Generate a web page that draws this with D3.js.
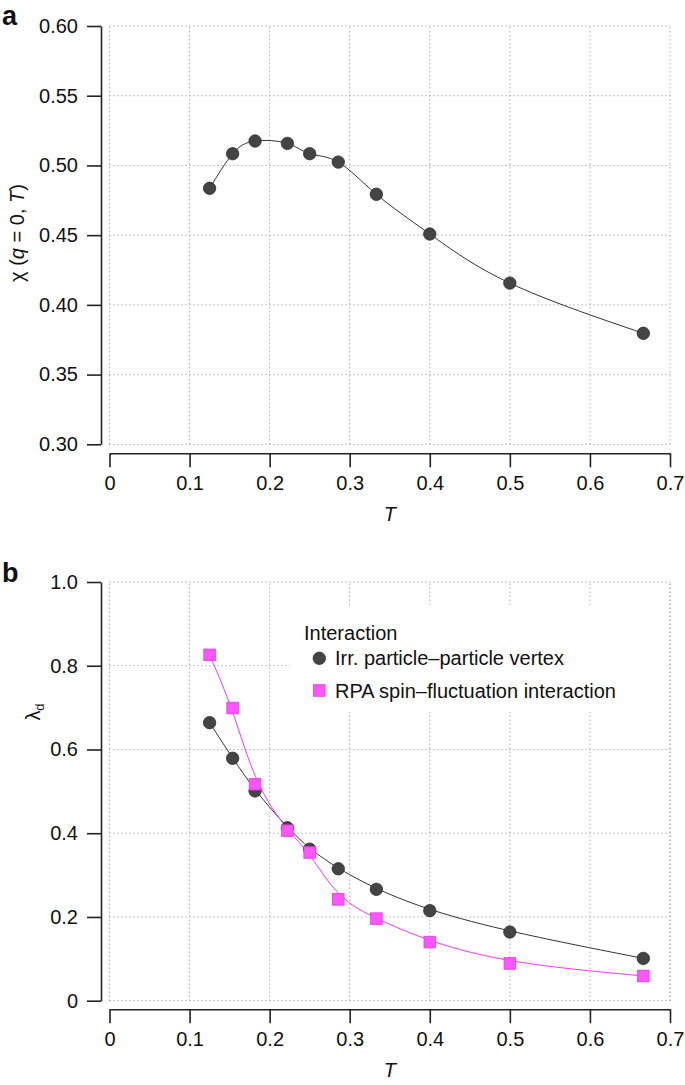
<!DOCTYPE html>
<html><head><meta charset="utf-8">
<script src="https://cdn.jsdelivr.net/npm/d3@7"></script>
<style>
body{margin:0;background:#fff;}
svg text{font-family:"Liberation Sans",Arial,Helvetica,sans-serif;fill:#111;}
</style></head><body>
<svg id="c" width="685" height="1085"></svg>
<script>
// ---- data ----
const temps = [0.125, 0.1538, 0.1818, 0.2222, 0.25, 0.2857, 0.3333, 0.4, 0.5, 0.6667];
const chiValues = [0.4836, 0.5084, 0.5175, 0.5158, 0.5084, 0.5024, 0.4793, 0.4508, 0.4156, 0.3796];
const lambdaIrr = [0.664, 0.579, 0.501, 0.413, 0.362, 0.315, 0.266, 0.215, 0.164, 0.101];
const lambdaRPA = [0.826, 0.699, 0.517, 0.406, 0.354, 0.242, 0.196, 0.140, 0.089, 0.059];
const xTicks = [0, 0.1, 0.2, 0.3, 0.4, 0.5, 0.6, 0.7];
const xTickLabels = ["0", "0.1", "0.2", "0.3", "0.4", "0.5", "0.6", "0.7"];
const yTicksA = [0.30, 0.35, 0.40, 0.45, 0.50, 0.55, 0.60];
const yTickLabelsA = ["0.30", "0.35", "0.40", "0.45", "0.50", "0.55", "0.60"];
const yTicksB = [0, 0.2, 0.4, 0.6, 0.8, 1.0];
const yTickLabelsB = ["0", "0.2", "0.4", "0.6", "0.8", "1.0"];
const legendTitle = "Interaction";
const seriesNames = ["Irr. particle\u2013particle vertex", "RPA spin\u2013fluctuation interaction"];

const svg = d3.select("#c");
const FS = 20;
const darkFill = "#444444", darkStroke = "#2a2a2a";
const pinkFill = "#ff55ff", pinkStroke = "#e33be3", pinkLine = "#ff33ff";

function panel(opts){
  const g = svg.append("g");
  const x = d3.scaleLinear().domain([0, 0.7]).range([109.5, 670]);
  const y = d3.scaleLinear().domain(opts.yDomain).range(opts.yRange);
  // grid
  const grid = g.append("g").attr("stroke", "#8a8a8a").attr("stroke-width", 1)
    .attr("stroke-dasharray", "1,3").attr("fill", "none");
  grid.selectAll("line.v").data(xTicks).join("line")
    .attr("x1", d => x(d)).attr("x2", d => x(d))
    .attr("y1", y(opts.yDomain[0])).attr("y2", y(opts.yDomain[1]));
  grid.selectAll("line.h").data(opts.yTicks).join("line")
    .attr("x1", x(0)).attr("x2", x(0.7))
    .attr("y1", d => y(d)).attr("y2", d => y(d));
  // y axis
  const ya = g.append("g").attr("transform", "translate(101,0)")
    .call(d3.axisLeft(y).tickValues(opts.yTicks)
      .tickFormat((d, i) => opts.yLabels[i]).tickSize(14).tickSizeOuter(0).tickPadding(9));
  // x axis
  const xa = g.append("g").attr("transform", `translate(0,${opts.xAxisY})`)
    .call(d3.axisBottom(x).tickValues(xTicks)
      .tickFormat((d, i) => xTickLabels[i]).tickSize(14).tickSizeOuter(0).tickPadding(9));
  [ya, xa].forEach(a => {
    a.selectAll("path,line").attr("stroke", "#222").attr("stroke-width", 1.6);
    a.selectAll("text").attr("font-size", FS).attr("fill", "#111")
      .style("font-family", '"Liberation Sans",Arial,sans-serif');
  });
  // x title
  g.append("text").attr("x", x(0.35)).attr("y", opts.xAxisY + 68)
    .attr("text-anchor", "middle").attr("font-size", FS).attr("font-style", "italic").text("T");
  // panel letter
  g.append("text").attr("x", 2).attr("y", opts.letterY).attr("font-size", 27)
    .attr("font-weight", "bold").text(opts.letter);
  return {g, x, y};
}

// ---- panel a ----
const A = panel({yDomain:[0.30, 0.60], yRange:[444.3, 26], yTicks:yTicksA, yLabels:yTickLabelsA,
  xAxisY:453.3, letter:"a", letterY:25});
const ylabA = A.g.append("text").attr("transform", "translate(24,233) rotate(-90)")
  .attr("text-anchor", "middle").attr("font-size", FS);
ylabA.append("tspan").text("\u03C7 (");
ylabA.append("tspan").attr("font-style", "italic").text("q");
ylabA.append("tspan").text(" = 0, ");
ylabA.append("tspan").attr("font-style", "italic").text("T");
ylabA.append("tspan").text(")");

const dataA = temps.map((t, i) => ({t, v: chiValues[i]}));
A.g.append("path").datum(dataA)
  .attr("d", d3.line().x(d => A.x(d.t)).y(d => A.y(d.v)).curve(d3.curveNatural))
  .attr("fill", "none").attr("stroke", "#333").attr("stroke-width", 1);
A.g.selectAll("circle.pt").data(dataA).join("circle")
  .attr("cx", d => A.x(d.t)).attr("cy", d => A.y(d.v)).attr("r", 6.2)
  .attr("fill", darkFill).attr("stroke", darkStroke).attr("stroke-width", 0.8);

// ---- panel b ----
const B = panel({yDomain:[0, 1.0], yRange:[1000.7, 582], yTicks:yTicksB, yLabels:yTickLabelsB,
  xAxisY:1009.3, letter:"b", letterY:582});
const ylabB = B.g.append("text").attr("transform", "translate(40,712) rotate(-90)")
  .attr("text-anchor", "middle").attr("font-size", FS);
ylabB.append("tspan").text("\u03BB");
ylabB.append("tspan").attr("font-size", 13).attr("dy", 4).text("d");

// legend box (white background hides grid)
B.g.append("rect").attr("x", 290).attr("y", 605).attr("width", 376).attr("height", 107).attr("fill", "#fff");
// redraw right border of grid over the box
B.g.append("line").attr("x1", B.x(0.7)).attr("x2", B.x(0.7)).attr("y1", B.y(0)).attr("y2", B.y(1))
  .attr("stroke", "#8a8a8a").attr("stroke-dasharray", "1,3");

const dataIrr = temps.map((t, i) => ({t, v: lambdaIrr[i]}));
const dataRPA = temps.map((t, i) => ({t, v: lambdaRPA[i]}));
const lineB = d3.line().x(d => B.x(d.t)).y(d => B.y(d.v)).curve(d3.curveBasis);
B.g.append("path").datum(dataIrr).attr("d", lineB).attr("fill", "none").attr("stroke", "#333").attr("stroke-width", 1);
B.g.append("path").datum(dataRPA).attr("d", lineB).attr("fill", "none").attr("stroke", pinkLine).attr("stroke-width", 1);
B.g.selectAll("circle.pt").data(dataIrr).join("circle")
  .attr("cx", d => B.x(d.t)).attr("cy", d => B.y(d.v)).attr("r", 6.2)
  .attr("fill", darkFill).attr("stroke", darkStroke).attr("stroke-width", 0.8);
B.g.selectAll("rect.pt").data(dataRPA).join("rect")
  .attr("x", d => B.x(d.t) - 5.8).attr("y", d => B.y(d.v) - 5.8).attr("width", 11.6).attr("height", 11.6)
  .attr("fill", pinkFill).attr("stroke", pinkStroke).attr("stroke-width", 0.8);

// legend
const lg = B.g.append("g");
lg.append("text").attr("x", 304).attr("y", 640).attr("font-size", FS).text(legendTitle);
lg.append("circle").attr("cx", 319.3).attr("cy", 658.3).attr("r", 6.2).attr("fill", darkFill).attr("stroke", darkStroke).attr("stroke-width", 0.8);
lg.append("rect").attr("x", 319.3 - 5.8).attr("y", 690.5 - 5.8).attr("width", 11.6).attr("height", 11.6)
  .attr("fill", pinkFill).attr("stroke", pinkStroke).attr("stroke-width", 0.8);
lg.append("text").attr("x", 335).attr("y", 665.3).attr("font-size", FS).text(seriesNames[0]);
lg.append("text").attr("x", 335).attr("y", 697.5).attr("font-size", FS).text(seriesNames[1]);
</script>
</body></html>
